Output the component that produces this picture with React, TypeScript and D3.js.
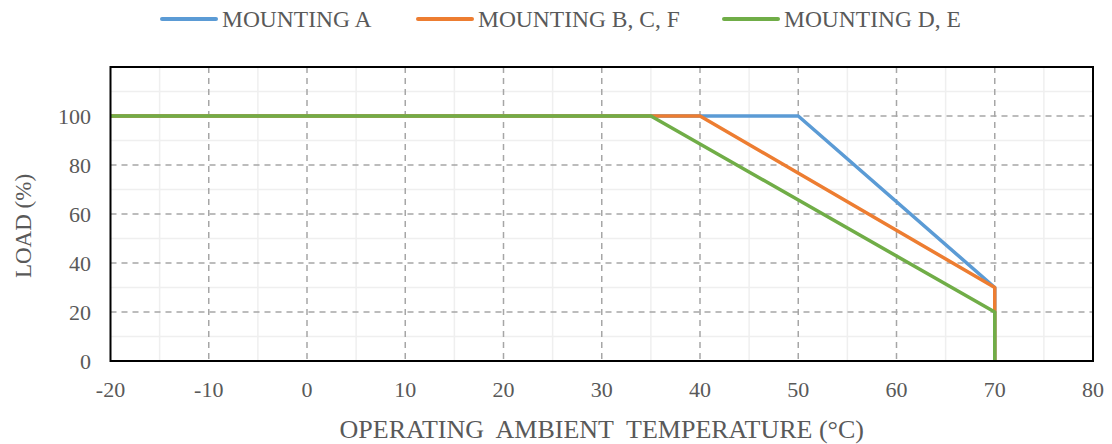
import React from "react";
import * as d3 from "d3";

const seriesNames = ["MOUNTING A", "MOUNTING B, C, F", "MOUNTING D, E"];
const seriesColors = ["#5b9bd5", "#ed7d31", "#70ad47"];
const seriesA: [number, number][] = [[-20, 100], [50, 100], [70, 30], [70, 0]];
const seriesBCF: [number, number][] = [[-20, 100], [40, 100], [70, 30], [70, 0]];
const seriesDE: [number, number][] = [[-20, 100], [35, 100], [70, 20], [70, 0]];
const xTicks = [-20, -10, 0, 10, 20, 30, 40, 50, 60, 70, 80];
const xMinor = [-15, -5, 5, 15, 25, 35, 45, 55, 65, 75];
const yTicks = [0, 20, 40, 60, 80, 100];
const yMinor = [10, 30, 50, 70, 90, 110];
const xTitle = "OPERATING  AMBIENT  TEMPERATURE (°C)";
const yTitle = "LOAD (%)";

const W = 1112, H = 444;
const L = 110.5, R = 1093, T = 67, B = 361;
const FONT = "'Liberation Serif', 'Times New Roman', serif";
const TXT = "#595959";

export default function App() {
  const x = d3.scaleLinear().domain([-20, 80]).range([L, R]);
  const y = d3.scaleLinear().domain([0, 120]).range([B, T]);
  const line = d3.line<[number, number]>().x(d => x(d[0])).y(d => y(d[1]));
  const allSeries = [seriesA, seriesBCF, seriesDE];
  const legendX = [162, 418, 724];
  return (
    <svg width={W} height={H} style={{ position: "absolute", left: 0, top: 0 }} fontFamily={FONT}>
      <rect x={0} y={0} width={W} height={H} fill="#fff" />
      {xMinor.map(v => (
        <line key={"xm" + v} x1={x(v)} x2={x(v)} y1={T} y2={B} stroke="#efefef" strokeWidth={1.5} />
      ))}
      {yMinor.map(v => (
        <line key={"ym" + v} x1={L} x2={R} y1={y(v)} y2={y(v)} stroke="#efefef" strokeWidth={1.5} />
      ))}
      {xTicks.filter(v => v > -20 && v < 80).map(v => (
        <line key={"xg" + v} x1={x(v)} x2={x(v)} y1={T} y2={B} stroke="#a6a6a6" strokeWidth={1.5} strokeDasharray="6,5" />
      ))}
      {yTicks.filter(v => v > 0).map(v => (
        <line key={"yg" + v} x1={L} x2={R} y1={y(v)} y2={y(v)} stroke="#a6a6a6" strokeWidth={1.5} strokeDasharray="6,5" />
      ))}
      {allSeries.map((s, i) => (
        <path key={"s" + i} d={line(s) || ""} fill="none" stroke={seriesColors[i]} strokeWidth={3.5} strokeLinejoin="round" />
      ))}
      <rect x={L} y={T} width={R - L} height={B - T} fill="none" stroke="#000" strokeWidth={2} />
      {xTicks.map(v => (
        <text key={"xt" + v} x={x(v)} y={397} textAnchor="middle" fontSize={22} fill={TXT}>{v}</text>
      ))}
      {yTicks.map(v => (
        <text key={"yt" + v} x={91} y={y(v) + 7.5} textAnchor="end" fontSize={22} fill={TXT}>{v}</text>
      ))}
      <text x={(L + R) / 2} y={438} textAnchor="middle" fontSize={26} fill={TXT} style={{ whiteSpace: "pre" }}>{xTitle}</text>
      <text transform={`translate(31,226) rotate(-90)`} textAnchor="middle" fontSize={23} fill={TXT}>{yTitle}</text>
      {seriesNames.map((n, i) => (
        <g key={"lg" + i}>
          <line x1={legendX[i]} x2={legendX[i] + 54} y1={19} y2={19} stroke={seriesColors[i]} strokeWidth={4} strokeLinecap="round" />
          <text x={legendX[i] + 60} y={27} fontSize={23.5} fill={TXT}>{n}</text>
        </g>
      ))}
    </svg>
  );
}
